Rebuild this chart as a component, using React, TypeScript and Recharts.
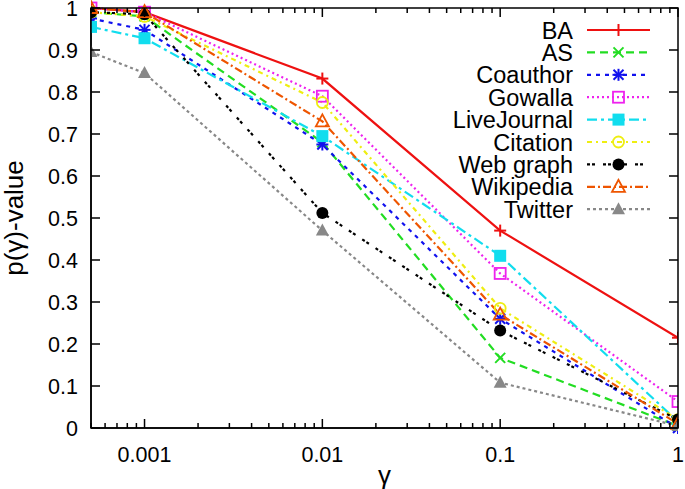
import React from "react";
import { Line, LineChart, XAxis, YAxis } from "recharts";

const GAMMA = [0.0005, 0.001, 0.01, 0.1, 1];

const BA = [1.0, 0.99, 0.832, 0.47, 0.215];
const AS = [0.99, 0.98, 0.68, 0.167, 0.005];
const COAUTHOR = [0.975, 0.948, 0.675, 0.26, 0.0];
const GOWALLA = [1.0, 0.99, 0.79, 0.368, 0.063];
const LIVEJOURNAL = [0.955, 0.928, 0.695, 0.41, 0.015];
const CITATION = [0.99, 0.98, 0.775, 0.285, 0.02];
const WEBGRAPH = [0.99, 0.985, 0.512, 0.232, 0.02];
const WIKIPEDIA = [1.0, 0.99, 0.73, 0.27, 0.01];
const TWITTER = [0.895, 0.845, 0.47, 0.108, 0.005];

const X_MAJOR = [0.001, 0.01, 0.1, 1];
const X_LABELS = ["0.001", "0.01", "0.1", "1"];
const Y_TICKS = [0, 0.1, 0.2, 0.3, 0.4, 0.5, 0.6, 0.7, 0.8, 0.9, 1];
const Y_LABELS = ["0", "0.1", "0.2", "0.3", "0.4", "0.5", "0.6", "0.7", "0.8", "0.9", "1"];

// minor ticks 2..9 per decade, starting at 5e-4
const X_TICKS: number[] = [];
[0.0001, 0.001, 0.01, 0.1].forEach((d) => {
  for (let m = 1; m <= 9; m++) {
    const v = +(m * d).toPrecision(3);
    if (v >= 0.0005) X_TICKS.push(v);
  }
});
X_TICKS.push(1);

type Marker = "plus" | "cross" | "star" | "osquare" | "fsquare" | "ocircle" | "fcircle" | "otri" | "ftri";

const SERIES: { key: string; values: number[]; color: string; dash?: string; marker: Marker }[] = [
  { key: "BA", values: BA, color: "#ee1111", marker: "plus" },
  { key: "AS", values: AS, color: "#22dd22", dash: "8 5", marker: "cross" },
  { key: "Coauthor", values: COAUTHOR, color: "#1111ee", dash: "4 5", marker: "star" },
  { key: "Gowalla", values: GOWALLA, color: "#ee22ee", dash: "2 3", marker: "osquare" },
  { key: "LiveJournal", values: LIVEJOURNAL, color: "#11ddee", dash: "10 4 3 4", marker: "fsquare" },
  { key: "Citation", values: CITATION, color: "#eeee11", dash: "5 4 2 4", marker: "ocircle" },
  { key: "Web graph", values: WEBGRAPH, color: "#000000", dash: "3 2 3 8", marker: "fcircle" },
  { key: "Wikipedia", values: WIKIPEDIA, color: "#ee5500", dash: "8 3 2 3", marker: "otri" },
  { key: "Twitter", values: TWITTER, color: "#888888", dash: "3 3", marker: "ftri" },
];

const data = GAMMA.map((g, i) => {
  const row: Record<string, number> = { g };
  SERIES.forEach((s) => (row[s.key] = s.values[i]));
  return row;
});

const FONT = "'Liberation Sans', Arial, sans-serif";
const LW = 2.2;

function drawMarker(kind: Marker, cx: number, cy: number, color: string, key?: React.Key) {
  const r = 6;
  const sw = 2;
  switch (kind) {
    case "plus":
      return (
        <g key={key} stroke={color} strokeWidth={sw}>
          <line x1={cx - r} y1={cy} x2={cx + r} y2={cy} />
          <line x1={cx} y1={cy - r} x2={cx} y2={cy + r} />
        </g>
      );
    case "cross":
      return (
        <g key={key} stroke={color} strokeWidth={sw}>
          <line x1={cx - 5} y1={cy - 5} x2={cx + 5} y2={cy + 5} />
          <line x1={cx - 5} y1={cy + 5} x2={cx + 5} y2={cy - 5} />
        </g>
      );
    case "star":
      return (
        <g key={key} stroke={color} strokeWidth={sw}>
          <line x1={cx - r} y1={cy} x2={cx + r} y2={cy} />
          <line x1={cx} y1={cy - r} x2={cx} y2={cy + r} />
          <line x1={cx - 5} y1={cy - 5} x2={cx + 5} y2={cy + 5} />
          <line x1={cx - 5} y1={cy + 5} x2={cx + 5} y2={cy - 5} />
        </g>
      );
    case "osquare":
      return <rect key={key} x={cx - 5.5} y={cy - 5.5} width={11} height={11} fill="none" stroke={color} strokeWidth={1.8} />;
    case "fsquare":
      return <rect key={key} x={cx - 6} y={cy - 6} width={12} height={12} fill={color} />;
    case "ocircle":
      return <circle key={key} cx={cx} cy={cy} r={5.5} fill="none" stroke={color} strokeWidth={1.8} />;
    case "fcircle":
      return <circle key={key} cx={cx} cy={cy} r={6} fill={color} />;
    case "otri":
      return (
        <polygon key={key} points={`${cx},${cy - 7} ${cx - 6.5},${cy + 5} ${cx + 6.5},${cy + 5}`} fill="none" stroke={color} strokeWidth={1.8} />
      );
    case "ftri":
      return <polygon key={key} points={`${cx},${cy - 7} ${cx - 6.5},${cy + 5} ${cx + 6.5},${cy + 5}`} fill={color} />;
  }
}

const isMajor = (v: number) => X_MAJOR.some((m) => Math.abs(m - v) < 1e-9);

// ticks are drawn inward (gnuplot style); the axis line sits at AXIS_* coordinates
const PLOT = { left: 91, right: 678, top: 8, bottom: 428 };

function BottomTick(props: any) {
  const { x, payload } = props;
  const v = payload.value;
  const major = isMajor(v);
  const idx = X_MAJOR.findIndex((m) => Math.abs(m - v) < 1e-9);
  const y = PLOT.bottom;
  return (
    <g>
      <line x1={x} y1={y} x2={x} y2={y - (major ? 9 : 5)} stroke="#000" strokeWidth={1.5} />
      <line x1={x} y1={PLOT.top} x2={x} y2={PLOT.top + (major ? 9 : 5)} stroke="#000" strokeWidth={1.5} />
      {major && (
        <text x={x} y={y + 34} textAnchor="middle" fontSize={21.5} fontFamily={FONT} fill="#000">
          {X_LABELS[idx]}
        </text>
      )}
    </g>
  );
}

function LeftTick(props: any) {
  const { y, index } = props;
  const x = PLOT.left;
  return (
    <g>
      <line x1={x} y1={y} x2={x + 9} y2={y} stroke="#000" strokeWidth={1.5} />
      <line x1={PLOT.right} y1={y} x2={PLOT.right - 9} y2={y} stroke="#000" strokeWidth={1.5} />
      <text x={x - 13} y={y + 7.5} textAnchor="end" fontSize={21.5} fontFamily={FONT} fill="#000">
        {Y_LABELS[index]}
      </text>
    </g>
  );
}

function LegendBox() {
  return (
    <svg width={685} height={489} style={{ position: "absolute", left: 0, top: 0, pointerEvents: "none" }}>
      <rect
        x={PLOT.left}
        y={PLOT.top}
        width={PLOT.right - PLOT.left}
        height={PLOT.bottom - PLOT.top}
        fill="none"
        stroke="#000"
        strokeWidth={1.5}
      />
      {SERIES.map((s, i) => {
        const y = 30 + i * 22.4;
        return (
          <g key={s.key}>
            <text x={573} y={y + 8.5} textAnchor="end" fontSize={23.5} fontFamily={FONT} fill="#000">
              {s.key}
            </text>
            <line x1={587} y1={y} x2={650} y2={y} stroke={s.color} strokeWidth={LW} strokeDasharray={s.dash} />
            {drawMarker(s.marker, 618.5, y, s.color)}
          </g>
        );
      })}
    </svg>
  );
}

export default function App() {
  return (
    <div style={{ width: 685, height: 489, position: "relative", background: "#fff" }}>
      <style>{"body{margin:0}"}</style>
      <LineChart
        width={685}
        height={489}
        data={data}
        margin={{ top: PLOT.top, right: 685 - PLOT.right, bottom: 0, left: 0 }}
      >
        <XAxis
          dataKey="g"
          type="number"
          scale="log"
          domain={[0.0005, 1]}
          allowDataOverflow
          ticks={X_TICKS}
          interval={0}
          tick={<BottomTick />}
          tickLine={false}
          tickSize={0}
          tickMargin={0}
          height={489 - PLOT.bottom}
          axisLine={{ stroke: "#000", strokeWidth: 1.5 }}
        />
        <YAxis
          type="number"
          domain={[0, 1]}
          ticks={Y_TICKS}
          interval={0}
          width={PLOT.left}
          tick={<LeftTick />}
          tickLine={false}
          tickSize={0}
          tickMargin={0}
          axisLine={{ stroke: "#000", strokeWidth: 1.5 }}
        />
        {SERIES.map((s) => (
          <Line
            key={s.key}
            dataKey={s.key}
            stroke={s.color}
            strokeWidth={LW}
            strokeDasharray={s.dash}
            type="linear"
            isAnimationActive={false}
            legendType="none"
            dot={(p: any) => drawMarker(s.marker, p.cx, p.cy, s.color, p.index)}
            activeDot={false}
          />
        ))}
      </LineChart>
      <LegendBox />
      <svg width={40} height={489} style={{ position: "absolute", left: 0, top: 0 }}>
        <text
          x={0}
          y={0}
          transform="translate(23,218) rotate(-90)"
          textAnchor="middle"
          fontSize={26}
          fontFamily={FONT}
          fill="#000"
        >
          p(γ)-value
        </text>
      </svg>
      <div
        style={{
          position: "absolute",
          left: 0,
          top: 460,
          width: 685,
          paddingLeft: PLOT.left,
          paddingRight: 685 - PLOT.right,
          boxSizing: "border-box",
          textAlign: "center",
          fontFamily: FONT,
          fontSize: 26,
          lineHeight: "30px",
        }}
      >
        γ
      </div>
    </div>
  );
}
